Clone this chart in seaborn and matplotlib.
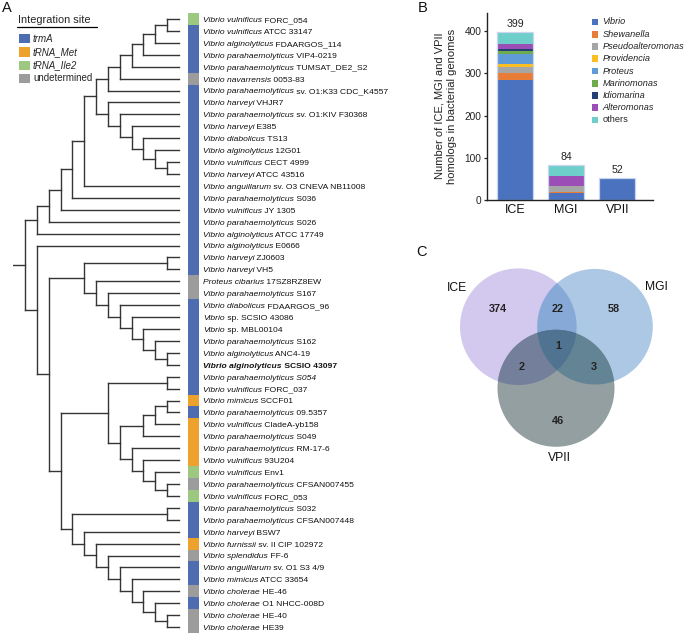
import ast
import numpy as np
import pandas as pd
import matplotlib
matplotlib.use("Agg")
import matplotlib.pyplot as plt
import matplotlib.transforms as mtransforms
from matplotlib.patches import Rectangle, Circle, Polygon
from matplotlib.collections import LineCollection
import seaborn as sns

sns.set_style("ticks")
plt.rcParams['font.family'] = ['Liberation Sans', 'DejaVu Sans']

# ---------------- data: panel A ----------------
species = ["Vibrio vulnificus", "Vibrio vulnificus", "Vibrio alginolyticus", "Vibrio parahaemolyticus",
           "Vibrio parahaemolyticus", "Vibrio navarrensis", "Vibrio parahaemolyticus", "Vibrio harveyi",
           "Vibrio parahaemolyticus", "Vibrio harveyi", "Vibrio diabolicus", "Vibrio alginolyticus",
           "Vibrio vulnificus", "Vibrio harveyi", "Vibrio anguillarum", "Vibrio parahaemolyticus",
           "Vibrio vulnificus", "Vibrio parahaemolyticus", "Vibrio alginolyticus", "Vibrio alginolyticus",
           "Vibrio harveyi", "Vibrio harveyi", "Proteus cibarius", "Vibrio parahaemolyticus",
           "Vibrio diabolicus", "Vibrio", "Vibrio", "Vibrio parahaemolyticus",
           "Vibrio alginolyticus", "Vibrio alginolyticus", "Vibrio parahaemolyticus S054", "Vibrio vulnificus",
           "Vibrio mimicus", "Vibrio parahaemolyticus", "Vibrio vulnificus", "Vibrio parahaemolyticus",
           "Vibrio parahaemolyticus", "Vibrio vulnificus", "Vibrio vulnificus", "Vibrio parahaemolyticus",
           "Vibrio vulnificus", "Vibrio parahaemolyticus", "Vibrio parahaemolyticus", "Vibrio harveyi",
           "Vibrio furnissii", "Vibrio splendidus", "Vibrio anguillarum", "Vibrio mimicus",
           "Vibrio cholerae", "Vibrio cholerae", "Vibrio cholerae", "Vibrio cholerae"]
strains = ["FORC_054", "ATCC 33147", "FDAARGOS_114", "VIP4-0219",
           "TUMSAT_DE2_S2", "0053-83", "sv. O1:K33 CDC_K4557", "VHJR7",
           "sv. O1:KIV F30368", "E385", "TS13", "12G01",
           "CECT 4999", "ATCC 43516", "sv. O3 CNEVA NB11008", "S036",
           "JY 1305", "S026", "ATCC 17749", "E0666",
           "ZJ0603", "VH5", "17SZ8RZ8EW", "S167",
           "FDAARGOS_96", "sp. SCSIO 43086", "sp. MBL00104", "S162",
           "ANC4-19", "SCSIO 43097", "", "FORC_037",
           "SCCF01", "09.5357", "CladeA-yb158", "S049",
           "RM-17-6", "93U204", "Env1", "CFSAN007455",
           "FORC_053", "S032", "CFSAN007448", "BSW7",
           "sv. II CIP 102972", "FF-6", "sv. O1 S3 4/9", "ATCC 33654",
           "HE-46", "O1 NHCC-008D", "HE-40", "HE39"]
bold_leaf = 29
sites = ["I", "T", "T", "T", "T", "U", "T", "T", "T", "T", "T", "T", "T",
         "T", "T", "T", "T", "T", "T", "T", "T", "T", "U", "U", "T", "T",
         "T", "T", "T", "T", "T", "T", "M", "T", "M", "M", "M", "M", "I",
         "U", "I", "T", "T", "T", "M", "U", "T", "T", "U", "T", "U", "U"]
site_names = {"T": "trmA", "M": "tRNA_Met", "I": "tRNA_Ile2", "U": "undetermined"}
site_colors = {"T": "#4e6db1", "M": "#eca22d", "I": "#9cc97f", "U": "#9c9c9c"}

# tree topology (leaf numbers 1..52), Newick-like nested pairs
cladeA = "((((((1,2),3),4),5),6),7)"
cladeB = "(8,(9,(10,(11,(12,(13,14))))))"
upper = "((((((" + cladeA + "," + cladeB + "),15),16),17),18),19)"
n96 = "(23,(24,(25,(26,(27,(28,(29,30)))))))"
n84 = "((21,22)," + n96 + ")"
n143 = "(((33,34),35),36)"
n132 = "(37,(38,(39,(40,41))))"
n107 = "((31,32),(" + n143 + "," + n132 + "))"
n84b = "(44,(45,(46,(47,(48,(49,(50,(51,52))))))))"
n72 = "((42,43)," + n84b + ")"
lower = "(20,(" + n84 + ",(" + n107 + "," + n72 + ")))"
newick = "(" + upper + "," + lower + ")"

# ---------------- data: panel B ----------------
groups = ["ICE", "MGI", "VPII"]
genera = ["Vibrio", "Shewanella", "Pseudoalteromonas", "Providencia", "Proteus",
          "Marinomonas", "Idiomarina", "Alteromonas", "others"]
ice_counts = [284, 17, 13, 9, 24, 5, 5, 12, 30]
mgi_counts = [16, 4, 12, 0, 0, 2, 0, 22, 28]
vpii_counts = [52, 0, 0, 0, 0, 0, 0, 0, 0]
genus_colors = ["#4a72be", "#ea7d36", "#a6a6a6", "#fbbf24", "#5f9bd6",
                "#6eab4a", "#243f74", "#9a4eb6", "#6ecfca"]

# ---------------- data: panel C ----------------
venn_sets = ["ICE", "MGI", "VPII"]
venn_counts = {"100": 374, "010": 58, "001": 46, "110": 22, "101": 2, "011": 3, "111": 1}

# ---------------- figure ----------------
W, H = 685, 633
fig = plt.figure(figsize=(W / 100, H / 100), dpi=100)

ax_px = fig.add_axes([0, 0, 1, 1])
ax_px.set_xlim(0, W)
ax_px.set_ylim(H, 0)
ax_px.axis("off")

# ---- Panel A: tree ----
X0, UNIT = 179.0, 11.85
x_left = (13 - X0) / UNIT
x_right = (W - X0) / UNIT
ax_t = fig.add_axes([13 / W, 0, (W - 13) / W, (H - 13) / H])
ax_t.set_xlim(x_left, x_right)
ax_t.set_ylim(len(species) - 0.5, -0.5)
ax_t.axis("off")

tree = ast.literal_eval(newick)
segs = []


def layout(node):
    if isinstance(node, int):
        return node - 1, 0
    res = [layout(c) for c in node]
    h = 1 + max(r[1] for r in res)
    ys = [r[0] for r in res]
    segs.append([(-h, min(ys)), (-h, max(ys))])
    for (yc, hc) in res:
        segs.append([(-h, yc), (-hc, yc)])
    return (min(ys) + max(ys)) / 2, h


ry, rh = layout(tree)
segs.append([(-rh - 1, ry), (-rh, ry)])
ax_t.add_collection(LineCollection(segs, colors="#353535", linewidths=1.0, capstyle="projecting"))

# colour strip
for i, s in enumerate(sites):
    ax_t.barh(i, width=(199 - 188) / UNIT, left=(188 - X0) / UNIT, height=1.0,
              color=site_colors[s], linewidth=0)

FS = 6.1
lx = (203 - X0) / UNIT
BASE = 0.25  # baseline shift (rows) so that text is centred on the leaf
renderer = fig.canvas.get_renderer()
for i, (sp, st) in enumerate(zip(species, strains)):
    w = "bold" if i == bold_leaf else "normal"
    t1 = ax_t.text(lx, i + BASE, sp, style="italic", weight=w, fontsize=FS, va="baseline",
                   ha="left", color="#111111")
    if st:
        width = t1.get_window_extent(renderer).width
        tr = mtransforms.offset_copy(ax_t.transData, fig=fig, x=width, y=0, units="dots")
        ax_t.text(lx, i + BASE, " " + st, transform=tr, va="baseline", ha="left",
                  fontsize=FS, weight=w, color="#111111")

# legend A
ax_px.text(18, 20, "Integration site", fontsize=7.9, va="center", ha="left")
ax_px.plot([17, 97], [26.7, 26.7], color="black", lw=0.9)
for k, code in enumerate(["T", "M", "I", "U"]):
    yc = 38.8 + 13.2 * k
    ax_px.add_patch(Rectangle((19, yc - 4.6), 11, 9.2, color=site_colors[code], lw=0))
    ax_px.text(33, yc, site_names[code], fontsize=7.0, va="center", ha="left",
               style="normal" if code == "U" else "italic")

# ---- Panel B: stacked bars ----
ax_b = fig.add_axes([487 / W, (H - 200) / H, (653 - 487) / W, (200 - 13) / H])
df = pd.DataFrame({"group": np.repeat(groups, len(genera)),
                   "genus": genera * len(groups),
                   "count": ice_counts + mgi_counts + vpii_counts})
df["cum"] = df.groupby("group")["count"].cumsum()
for g, col in zip(genera[::-1], genus_colors[::-1]):
    sub = df[df["genus"] == g]
    sns.barplot(data=sub, x="group", y="cum", order=groups, color=col, saturation=1,
                width=0.7, errorbar=None, linewidth=0, edgecolor="none", ax=ax_b)
totals = df.groupby("group")["count"].sum().reindex(groups).values
ax_b.bar(range(3), totals, width=0.7, fill=False, edgecolor="#c9d6ee", linewidth=0.9)
for i, t in enumerate(totals):
    ax_b.text(i, t + 18, str(t), ha="center", va="center", fontsize=7.6, color="#222222")
ax_b.set_xlim(-0.55, 2.7)
ax_b.set_ylim(0, 443)
ax_b.set_yticks([0, 100, 200, 300, 400])
ax_b.set_xlabel("")
ax_b.set_ylabel("")
ax_b.set_facecolor("none")
sns.despine(ax=ax_b)
for sp in ["left", "bottom"]:
    ax_b.spines[sp].set_linewidth(1.0)
    ax_b.spines[sp].set_color("#222222")
ax_b.tick_params(axis="y", labelsize=7.3, length=2.5, width=0.9, pad=1.5, colors="#222222")
ax_b.tick_params(axis="x", labelsize=9, length=0, pad=3, colors="#111111")
ax_px.text(446, 106, "Number of ICE, MGI and VPII\nhomologs in bacterial genomes", rotation=90,
           ha="center", va="center", fontsize=8, linespacing=1.25, color="#222222")

# legend B
for k, (g, col) in enumerate(zip(genera, genus_colors)):
    yc = 22 + 12.25 * k
    ax_px.add_patch(Rectangle((591.7, yc - 3.3), 6.6, 6.6, color=col, lw=0))
    ax_px.text(602.3, yc, g, fontsize=6.6, va="center", ha="left",
               style="normal" if g == "others" else "italic", color="#222222")

# ---- Panel C: Venn ----
circles = [((518.3, 326.7), 58.3), ((595.0, 326.7), 57.8), ((556.0, 388.3), 58.5)]
region_colors = {"100": "#d3c9ef", "010": "#adc8e5", "001": "#939fa1",
                 "110": "#87a9d7", "101": "#74809b", "011": "#628494", "111": "#4f7390"}


def inter_poly(idx):
    pts = []
    for i in idx:
        (cx, cy), r = circles[i]
        th = np.linspace(0, 2 * np.pi, 1440, endpoint=False)
        p = np.c_[cx + r * np.cos(th), cy + r * np.sin(th)]
        ok = np.ones(len(p), bool)
        for j in idx:
            if j == i:
                continue
            (dx, dy), rr = circles[j]
            ok &= (p[:, 0] - dx) ** 2 + (p[:, 1] - dy) ** 2 <= rr ** 2 + 1e-6
        pts.append(p[ok])
    pts = np.vstack(pts)
    c = pts.mean(axis=0)
    order = np.argsort(np.arctan2(pts[:, 1] - c[1], pts[:, 0] - c[0]))
    return pts[order]


for i, key in enumerate(["100", "010", "001"]):
    (cx, cy), r = circles[i]
    ax_px.add_patch(Circle((cx, cy), r, color=region_colors[key], lw=0))
for key, idx in [("110", [0, 1]), ("101", [0, 2]), ("011", [1, 2]), ("111", [0, 1, 2])]:
    ax_px.add_patch(Polygon(inter_poly(idx), closed=True, color=region_colors[key], lw=0))

count_pos = {"100": (498, 309), "110": (558, 309), "010": (614, 309), "111": (558, 346),
             "101": (522, 367), "011": (594, 367), "001": (558, 421)}
for key, (x, y) in count_pos.items():
    ax_px.text(x, y, str(venn_counts[key]), ha="center", va="center", fontsize=7.8,
               weight="bold", color="#222222")
for name, (x, y) in zip(venn_sets, [(457, 288), (656, 287), (559, 458)]):
    ax_px.text(x, y, name, ha="center", va="center", fontsize=8.7, color="#111111")

# panel letters
for lab, (x, y) in zip(["A", "B", "C"], [(2, 8), (418, 8), (416, 252)]):
    ax_px.text(x, y, lab, ha="left", va="center", fontsize=10.5, color="#111111")

fig.savefig("out.png", dpi=100)
